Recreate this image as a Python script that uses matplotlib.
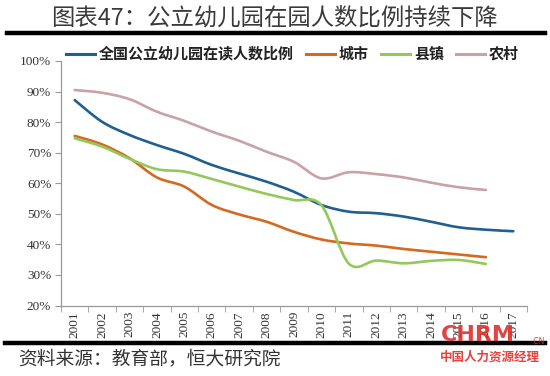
import numpy as np
import matplotlib
matplotlib.use("Agg")
import matplotlib.pyplot as plt
from matplotlib.path import Path
from matplotlib.patches import PathPatch
from matplotlib.lines import Line2D

plt.rcParams['font.family'] = ['Noto Sans CJK SC', 'DejaVu Sans']

years = [str(y) for y in range(2001, 2018)]
national = [87.2, 80.1, 75.8, 72.5, 69.6, 66.0, 63.2, 60.5, 57.2, 52.9,
            50.7, 50.2, 49.1, 47.4, 45.6, 44.8, 44.3]
urban = [75.5, 72.7, 68.2, 61.9, 58.9, 52.9, 49.8, 47.4, 44.1, 41.6,
         40.3, 39.6, 38.5, 37.6, 36.7, 35.8]
county = [74.7, 72.0, 68.0, 64.6, 63.8, 61.4, 58.9, 56.5, 54.5, 52.8,
          33.7, 34.7, 33.8, 34.6, 34.9, 33.6]
rural = [90.5, 89.6, 87.5, 83.4, 80.4, 76.9, 73.9, 70.3, 67.0, 61.6,
         63.6, 63.0, 61.9, 60.2, 58.7, 57.8]

series = [
    ('全国公立幼儿园在读人数比例', national, '#1f5f91'),
    ('城市', urban, '#d4691f'),
    ('县镇', county, '#93c95a'),
    ('农村', rural, '#c9a1a9'),
]


def smooth_path(xs, ys):
    # Excel-like smoothed line: cubic Bezier segments through each point
    pts = np.column_stack([xs, ys]).astype(float)
    ext = np.vstack([pts[0], pts, pts[-1]])
    verts = [pts[0]]
    codes = [Path.MOVETO]
    for i in range(len(pts) - 1):
        p0, p1, p2, p3 = ext[i], ext[i + 1], ext[i + 2], ext[i + 3]
        verts += [p1 + (p2 - p0) / 6, p2 - (p3 - p1) / 6, p2]
        codes += [Path.CURVE4] * 3
    return Path(verts, codes)


fig = plt.figure(figsize=(5.5, 3.76), dpi=100)
ax = fig.add_axes([61 / 550, 1 - 305.5 / 376, 466 / 550, 244.5 / 376])

handles = []
for name, vals, color in series:
    x = np.arange(len(vals))
    ax.add_patch(PathPatch(smooth_path(x, vals), fill=False, edgecolor=color,
                           lw=1.9, capstyle='round', joinstyle='round'))
    handles.append(Line2D([], [], color=color, lw=2.2, label=name))

ax.set_xlim(-0.5, len(years) - 0.5)
ax.set_ylim(20, 100)
ax.set_yticks(range(20, 101, 10))
ax.set_yticklabels([f'{v}%' for v in range(20, 101, 10)],
                   family='Liberation Serif', fontsize=9.5, color='#333333')
ax.set_xticks(range(len(years)))
ax.set_xticklabels(years, rotation=90, family='Liberation Serif',
                   fontsize=9.5, color='#333333')
ax.set_xticks(np.arange(-0.5, len(years)), minor=True)
ax.tick_params(axis='x', which='major', length=0, pad=4)
ax.tick_params(axis='x', which='minor', length=4, color='#999999')
ax.tick_params(axis='y', length=4, color='#999999', pad=3)
for side in ['top', 'right']:
    ax.spines[side].set_visible(False)
for side in ['left', 'bottom']:
    ax.spines[side].set_color('#999999')
    ax.spines[side].set_linewidth(0.9)

fig.legend(handles=handles, loc='center left', bbox_to_anchor=(60 / 550, 1 - 54 / 376),
           ncol=4, frameon=False, handlelength=1.9, handletextpad=0.3,
           columnspacing=0.8, borderaxespad=0, prop={'size': 10.8, 'weight': 'bold'},
           labelcolor='#222222')

fig.text(0.499, 1 - 18 / 376, '图表47：公立幼儿园在园人数比例持续下降',
         ha='center', va='center', fontsize=16.8, color='#3a3a3a',
         fontweight='light')
fig.add_artist(Line2D([7 / 550, 545 / 550], [1 - 33 / 376] * 2,
                      color='black', lw=3.2))
fig.add_artist(Line2D([5 / 550, 545 / 550], [1 - 343 / 376] * 2,
                      color='black', lw=3.2))
fig.text(18 / 550, 1 - 359 / 376, '资料来源：教育部，恒大研究院',
         ha='left', va='center', fontsize=13.5, color='#333333')

# watermark in bottom right corner
fig.text(478 / 550, 1 - 335 / 376, 'CHRM', ha='center', va='center',
         fontsize=16, fontweight='bold', color='#e0302c', alpha=0.9,
         family='DejaVu Sans')
fig.text(538 / 550, 1 - 342 / 376, '.CN', ha='center', va='center',
         fontsize=5.5, color='#e0302c', alpha=0.9, family='DejaVu Sans')
fig.text(490 / 550, 1 - 357 / 376, '中国人力资源经理', ha='center', va='center',
         fontsize=9, fontweight='bold', color='#e0302c', alpha=0.9)

fig.savefig('out.png', dpi=100)
